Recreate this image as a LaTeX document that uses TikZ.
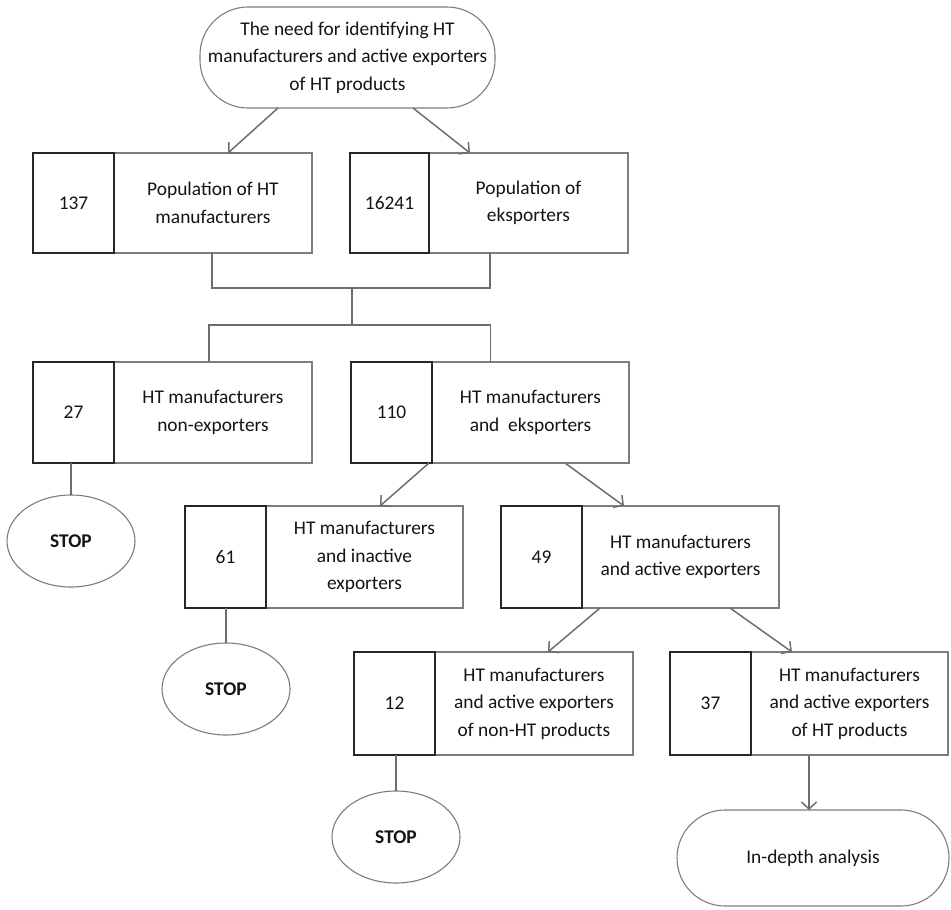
\documentclass[tikz,border=0pt]{standalone}
\usepackage{fontspec}
\setmainfont{Carlito}
\usetikzlibrary{arrows.meta,shapes.geometric}
\definecolor{boxgray}{RGB}{125,125,125}
\definecolor{numdark}{RGB}{38,38,38}
\definecolor{conngray}{RGB}{110,110,110}
\definecolor{txtcol}{RGB}{20,20,20}
\begin{document}
\begin{tikzpicture}[x=1pt,y=-1pt,
  txt/.style={font=\fontsize{19.4}{27.5}\selectfont, text=txtcol},
  lbl/.style={txt, rectangle, draw=boxgray, line width=1.5pt, inner sep=0pt, outer sep=0pt, align=center, fill=white},
  num/.style={txt, rectangle, draw=numdark, line width=2pt, inner sep=0pt, outer sep=0pt, fill=white},
  conn/.style={draw=conngray, line width=1.5pt},
  arr/.style={conn, -{Straight Barb[length=7pt,width=15pt,line width=1.5pt]}},
  stopnode/.style={txt, ellipse, draw=boxgray, line width=1.1pt, inner sep=0pt, outer sep=0pt, minimum width=128pt, minimum height=92pt, font=\fontsize{19.4}{27.5}\selectfont\bfseries},
  term/.style={txt, rectangle, rounded corners=48pt, draw=boxgray, line width=1.1pt, inner sep=0pt, outer sep=0pt, align=center}
]
\useasboundingbox (0,0) rectangle (951,910);

% top terminator
\node[term, minimum width=295pt, minimum height=101pt] (top) at (347.5,57.5)
  {The need for identifying HT\\manufacturers and active exporters\\of HT products};

% row 1
\node[lbl, minimum width=198pt, minimum height=100pt] (l137) at (213,203) {Population of HT\\manufacturers};
\node[num, minimum width=81pt, minimum height=100pt] (n137) at (73.5,203) {137};
\node[lbl, minimum width=199pt, minimum height=100pt] (l16241) at (528.5,203) {Population of\\eksporters};
\node[num, minimum width=79pt, minimum height=100pt] (n16241) at (389.5,203) {16241};

% row 2
\node[lbl, minimum width=198pt, minimum height=101pt] (l27) at (213,412.5) {HT manufacturers\\non-exporters};
\node[num, minimum width=81pt, minimum height=101pt] (n27) at (73.5,412.5) {27};
\node[lbl, minimum width=197pt, minimum height=101pt] (l110) at (530.5,412.5) {HT manufacturers\\and \ eksporters};
\node[num, minimum width=81pt, minimum height=101pt] (n110) at (391.5,412.5) {110};

% row 3
\node[lbl, minimum width=197pt, minimum height=102pt] (l61) at (364.5,557) {HT manufacturers\\and inactive\\exporters};
\node[num, minimum width=81pt, minimum height=102pt] (n61) at (225.5,557) {61};
\node[lbl, minimum width=197pt, minimum height=102pt] (l49) at (680.5,557) {HT manufacturers\\and active exporters};
\node[num, minimum width=81pt, minimum height=102pt] (n49) at (541.5,557) {49};

% row 4
\node[lbl, minimum width=198pt, minimum height=103pt] (l12) at (534,703.5) {HT manufacturers\\and active exporters\\of non-HT products};
\node[num, minimum width=81pt, minimum height=103pt] (n12) at (394.5,703.5) {12};
\node[lbl, minimum width=197pt, minimum height=103pt] (l37) at (849.5,703.5) {HT manufacturers\\and active exporters\\of HT products};
\node[num, minimum width=81pt, minimum height=103pt] (n37) at (710.5,703.5) {37};

% stops
\node[stopnode] (stop1) at (71,541) {STOP};
\node[stopnode] (stop2) at (226,689) {STOP};
\node[stopnode] (stop3) at (396,837) {STOP};

% final terminator
\node[term, minimum width=272pt, minimum height=96pt] (final) at (813,858) {In-depth analysis};

% junctions
\coordinate (j1) at (352,288);
\coordinate (j2) at (352,325);

% connectors
\draw[arr] ([xshift=-69.5pt]top.south) -- ([xshift=15pt]l137.north);
\draw[arr] ([xshift=65.5pt]top.south) -- ([xshift=-58.5pt]l16241.north);

\draw[conn] ([xshift=-1pt]l137.south) |- (j1) -| ([xshift=-38.5pt]l16241.south);
\draw[conn] (j1) -- (j2);
\draw[conn] ([xshift=-4pt]l27.north) |- (j2) -| ([xshift=-40pt]l110.north);

\draw[conn] (stop1.north |- n27.south) -- (stop1.north);
\draw[arr] ([xshift=-3pt]n110.south east) -- ([xshift=15.5pt]l61.north);
\draw[arr] ([xshift=34.5pt]l110.south) -- ([xshift=-56.5pt]l49.north);

\draw[conn] (stop2.north |- n61.south) -- (stop2.north);
\draw[arr] ([xshift=-80.5pt]l49.south) -- ([xshift=14pt]l12.north);
\draw[arr] ([xshift=49.5pt]l49.south) -- ([xshift=-57.5pt]l37.north);

\draw[conn] (stop3.north |- n12.south) -- (stop3.north);
\draw[arr] ([xshift=-40.5pt]l37.south) -- ([xshift=-4pt]final.north);
\end{tikzpicture}
\end{document}
